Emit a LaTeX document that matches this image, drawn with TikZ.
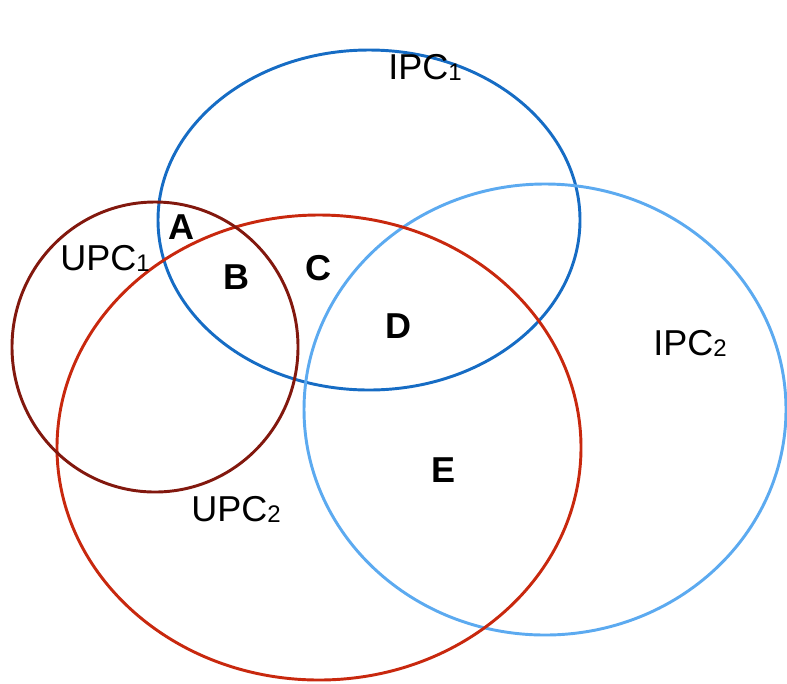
\documentclass[tikz,border=0pt]{standalone}
\usepackage{fontspec}
\setmainfont{Liberation Sans}
\usetikzlibrary{positioning}
\definecolor{ipcone}{RGB}{22,108,196}
\definecolor{ipctwo}{RGB}{92,170,240}
\definecolor{upcone}{RGB}{130,24,14}
\definecolor{upctwo}{RGB}{200,40,14}
\newcommand{\lowsub}[1]{\raisebox{-1pt}{\fontsize{18}{20}\selectfont #1}}

\begin{document}
\begin{tikzpicture}[x=0.75pt,y=-0.75pt,
		set/.style={line width=2.2pt},
		setname/.style={font=\fontsize{27}{30}\selectfont, anchor=base west, inner sep=0pt},
		region/.style={font=\fontsize{27}{30}\selectfont\bfseries, inner sep=0pt}]
		\useasboundingbox (0,0) rectangle (787,683);
		\draw[set, ipcone] (369,220) ellipse [x radius=211, y radius=170];
		\draw[set, ipctwo] (545,409.5) ellipse [x radius=241, y radius=225.5];
		\draw[set, upctwo] (319,447.5) ellipse [x radius=262, y radius=232.5];
		\draw[set, upcone] (155,347) ellipse [x radius=143, y radius=145];
		\node[setname] (ipc1) at (388,79) {IPC\lowsub{1}};
		\node[setname] (ipc2) at (653,355) {IPC\lowsub{2}};
		\node[setname] (upc1) at (60,270) {UPC\lowsub{1}};
		\node[setname] (upc2) at (191,521) {UPC\lowsub{2}};
		\node[region] (a) at (181,227) {A};
		\node[region] (b) at (236,277) {B};
		\node[region] (c) at (318,268) {C};
		\node[region] (d) at (398,326) {D};
		\node[region] (e) at (443,470) {E};
	\end{tikzpicture}
\end{document}
